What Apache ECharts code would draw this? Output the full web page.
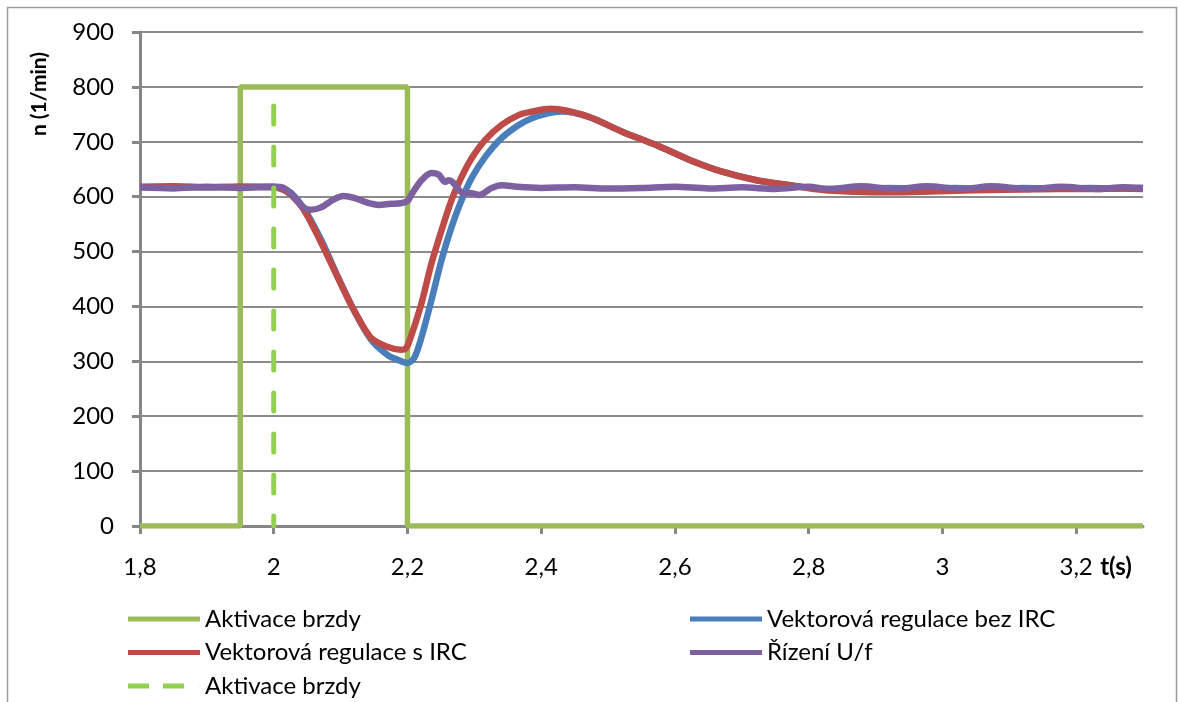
<!DOCTYPE html>
<html><head><meta charset="utf-8">
<script src="https://cdn.jsdelivr.net/npm/echarts@6/dist/echarts.min.js"></script>
<style>html,body{margin:0;padding:0;background:#fff}#c{width:1178px;height:702px}</style>
</head><body><div id="c"></div><script>
// ---- data ----
const xTickValues = [1.8, 2.0, 2.2, 2.4, 2.6, 2.8, 3.0, 3.2];
const seriesNames = ['Aktivace brzdy', 'Vektorová regulace bez IRC', 'Vektorová regulace s IRC', 'Řízení U/f', 'Aktivace brzdy '];

const brakeT = [1.8, 1.95, 1.95, 2.2, 2.2, 3.3];
const brakeV = [0, 0, 800, 800, 0, 0];

const brakeDashT = [2.0, 2.0];
const brakeDashV = [0, 800];

const blueT = [1.80, 1.85, 1.90, 1.95, 2.00, 2.015, 2.026, 2.045, 2.071, 2.096, 2.12, 2.146, 2.171, 2.185, 2.20, 2.21, 2.221, 2.236, 2.251, 2.266, 2.281, 2.296, 2.316, 2.341, 2.367, 2.386, 2.41, 2.43, 2.472, 2.522, 2.572, 2.622, 2.672, 2.722, 2.772, 2.822, 2.87, 2.92, 2.97, 3.02, 3.07, 3.12, 3.17, 3.22, 3.27, 3.30];
const blueV = [617, 618, 617, 618, 618, 614, 607, 579, 521, 454, 393, 339, 311, 303, 297, 306, 344, 412, 485, 545, 594, 634, 672, 707, 731, 743, 752, 755, 745, 718, 694, 667, 645, 630, 621, 614, 614, 616, 615, 616, 614, 616, 615, 616, 615, 616];

const redT = [1.80, 1.85, 1.90, 1.95, 2.00, 2.015, 2.026, 2.045, 2.071, 2.096, 2.12, 2.146, 2.171, 2.19, 2.198, 2.206, 2.221, 2.236, 2.251, 2.266, 2.281, 2.296, 2.316, 2.341, 2.367, 2.386, 2.414, 2.44, 2.472, 2.522, 2.572, 2.622, 2.672, 2.722, 2.772, 2.822, 2.87, 2.92, 2.97, 3.02, 3.07, 3.12, 3.17, 3.22, 3.27, 3.30];
const redV = [618, 619, 617, 618, 617, 612, 603, 576, 516, 452, 393, 342, 326, 321, 324, 348, 406, 479, 539, 594, 636, 670, 703, 731, 749, 755, 760, 756, 745, 718, 694, 667, 645, 630, 621, 612, 609, 608, 609, 611, 612, 613, 614, 614, 615, 614];

const purpleT = [1.80, 1.85, 1.90, 1.95, 2.00, 2.015, 2.03, 2.045, 2.055, 2.07, 2.09, 2.104, 2.12, 2.14, 2.157, 2.175, 2.19, 2.20, 2.206, 2.221, 2.236, 2.247, 2.256, 2.262, 2.268, 2.277, 2.284, 2.296, 2.307, 2.326, 2.341, 2.364, 2.40, 2.45, 2.50, 2.55, 2.60, 2.65, 2.70, 2.75, 2.80, 2.83, 2.878, 2.93, 2.977, 3.03, 3.073, 3.13, 3.178, 3.23, 3.27, 3.30];
const purpleV = [617, 615, 618, 616, 618, 616, 600, 580, 576, 580, 595, 601, 598, 589, 585, 587, 588, 592, 604, 630, 643, 640, 627, 630, 626, 612, 606, 606, 603, 616, 621, 618, 616, 617, 615, 616, 618, 615, 617, 614, 618, 614, 619, 614, 619, 614, 619, 614, 618, 614, 617, 616];

// ---- helpers ----
const zip = (a, b) => a.map((t, i) => [t, b[i]]);
const FONT = 'Lato, "Open Sans", sans-serif';
const fmt = v => String(Math.round(v * 10) / 10).replace('.', ',');

const SOLID_ICON = 'path://M0,0H72V5H0Z';
const DASH_ICON = 'path://M0,0H21V5H0Z M35,0H56V5H35Z M71.9,0H72V5H71.9Z';

const chart = echarts.init(document.getElementById('c'));
const lineSeries = (name, data, color, width, z, smooth) => ({
  name: name, type: 'line', data: data, symbol: 'none', z: z, smooth: smooth,
  lineStyle: {color: color, width: width},
  itemStyle: {color: color}
});

const legendCommon = {
  orient: 'vertical', itemWidth: 72, itemHeight: 5, itemGap: 9.5, padding: 0,
  selectedMode: false, top: 607,
  textStyle: {fontSize: 24, lineHeight: 24, color: '#000', fontFamily: FONT}
};

const dashSeries = lineSeries(seriesNames[4], zip(brakeDashT, brakeDashV), '#92D050', 5, 6, false);
dashSeries.lineStyle.type = [18, 23];
dashSeries.lineStyle.dashOffset = 8;
dashSeries.lineStyle.cap = 'round';

chart.setOption({
  backgroundColor: '#ffffff',
  animation: false,
  grid: {left: 140, right: 35, top: 32, bottom: 176, containLabel: false},
  xAxis: {
    type: 'value', min: 1.8, max: 3.3,
    axisLine: {show: true, lineStyle: {color: '#868686', width: 3}},
    axisTick: {show: true, length: 8, lineStyle: {color: '#868686', width: 3}, customValues: xTickValues},
    axisLabel: {customValues: xTickValues, formatter: fmt, color: '#000', fontSize: 24, fontFamily: FONT, margin: 29},
    splitLine: {show: false}
  },
  yAxis: {
    type: 'value', min: 0, max: 900, interval: 100,
    axisLine: {show: true, lineStyle: {color: '#868686', width: 3}},
    axisTick: {show: true, length: 8, lineStyle: {color: '#868686', width: 3}},
    axisLabel: {color: '#000', fontSize: 24, fontFamily: FONT, margin: 26},
    splitLine: {show: true, lineStyle: {color: '#8c8c8c', width: 2}}
  },
  legend: [
    Object.assign({}, legendCommon, {
      left: 128,
      data: [
        {name: seriesNames[0], icon: SOLID_ICON},
        {name: seriesNames[2], icon: SOLID_ICON},
        {name: seriesNames[4], icon: DASH_ICON}
      ]
    }),
    Object.assign({}, legendCommon, {
      left: 690,
      data: [{name: seriesNames[1], icon: SOLID_ICON}, {name: seriesNames[3], icon: SOLID_ICON}]
    })
  ],
  graphic: [
    {type: 'rect', silent: true, z: -10, shape: {x: 7.5, y: 7.5, width: 1169, height: 720},
      style: {fill: 'none', stroke: '#9a9a9a', lineWidth: 1.5}},
    {type: 'text', x: 39, y: 94, rotation: Math.PI / 2, silent: true,
      style: {text: 'n (1/min)', font: 'bold 21px ' + FONT, fill: '#000', align: 'center', verticalAlign: 'middle'}},
    {type: 'text', x: 1116, y: 567, silent: true,
      style: {text: 't(s)', font: 'bold 24px ' + FONT, fill: '#000', align: 'center', verticalAlign: 'middle'}}
  ],
  series: [
    lineSeries(seriesNames[0], zip(brakeT, brakeV), '#9BBB59', 5.5, 2, false),
    lineSeries(seriesNames[1], zip(blueT, blueV), '#4A7EBB', 6.5, 3, 0.3),
    lineSeries(seriesNames[2], zip(redT, redV), '#BE4B48', 6.5, 4, 0.3),
    lineSeries(seriesNames[3], zip(purpleT, purpleV), '#7D60A0', 6.5, 5, 0.3),
    dashSeries
  ]
});
</script></body></html>
